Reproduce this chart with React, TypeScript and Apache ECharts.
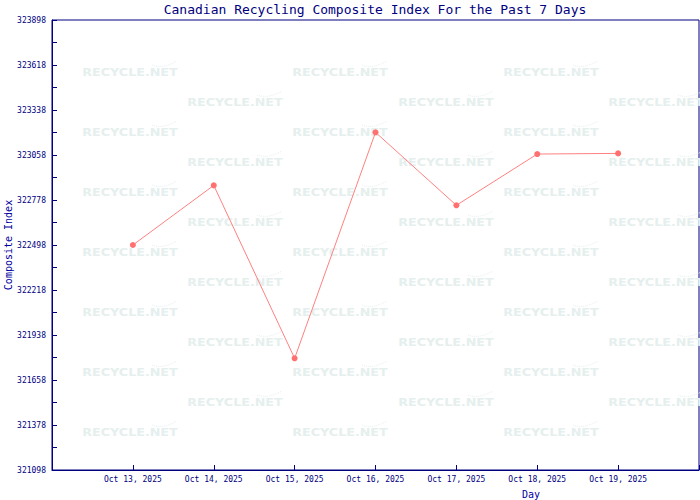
import React, { useEffect, useRef } from 'react';
import * as echarts from 'echarts';

const days = ['Oct 13, 2025', 'Oct 14, 2025', 'Oct 15, 2025', 'Oct 16, 2025', 'Oct 17, 2025', 'Oct 18, 2025', 'Oct 19, 2025'];
const indexValues = [322498, 322869, 321793, 323199, 322745, 323064, 323068];
const axisMin = 321098;
const axisMax = 323898;
const tickStep = 140;
const labelStep = 280;

export default function App() {
  const ref = useRef<HTMLDivElement>(null);
  useEffect(() => {
    document.body.style.margin = '0';
    const chart = echarts.init(ref.current!, null, { renderer: 'svg' });
    const navy = '#000080';
    const mono = '"DejaVu Sans Mono", monospace';
    const wm: any[] = [];
    for (let r = 0; r < 13; r++) {
      const y = 73 + r * 30;
      const xs = r % 2 === 0 ? [130, 340, 551] : [235, 446, 656];
      xs.forEach((x) => {
        wm.push({
          type: 'text', x, y, scaleX: 1.27, z: 1, silent: true,
          style: { text: 'RECYCLE.NET', fill: '#e5efed', font: 'bold 10px "DejaVu Sans"', textAlign: 'center', textVerticalAlign: 'middle' },
        });
        wm.push({
          type: 'bezierCurve', z: 1, silent: true,
          shape: { x1: x + 22, y1: y - 8, cpx1: x + 30, cpy1: y - 5, cpx2: x + 38, cpy2: y - 7, x2: x + 47, y2: y - 12 },
          style: { stroke: '#e8f0ef', lineWidth: 1, fill: 'none', lineDash: [1, 1] },
        });
      });
    }
    chart.setOption({
      animation: false,
      backgroundColor: '#ffffff',
      grid: { left: 52, top: 20, right: 1, bottom: 30, show: true, borderColor: navy, borderWidth: 1, containLabel: false, outerBoundsMode: 'none' },
      graphic: [
        ...wm,
        { type: 'text', x: 375, y: 9, z: 10, style: { text: 'Canadian Recycling Composite Index For the Past 7 Days', fill: navy, font: `13px ${mono}`, textAlign: 'center', textVerticalAlign: 'middle' } },
        { type: 'text', x: 531, y: 494, z: 10, style: { text: 'Day', fill: '#0000a0', font: `10px ${mono}`, textAlign: 'center', textVerticalAlign: 'middle' } },
        { type: 'text', x: 8, y: 245, rotation: Math.PI / 2, z: 10, style: { text: 'Composite Index', fill: '#0000a0', font: `10px ${mono}`, textAlign: 'center', textVerticalAlign: 'middle' } },
      ],
      xAxis: {
        type: 'value', min: 0, max: days.length + 1, interval: 1,
        axisLine: { show: true, lineStyle: { color: navy, width: 1 } },
        axisTick: { show: true, inside: true, length: 5, lineStyle: { color: navy } },
        axisLabel: { color: navy, fontFamily: mono, fontSize: 8, margin: 5, formatter: (v: number) => days[v - 1] ?? '' },
        splitLine: { show: false },
      },
      yAxis: {
        type: 'value', min: 0, max: axisMax - axisMin, interval: tickStep,
        axisLine: { show: true, lineStyle: { color: navy, width: 1 } },
        axisTick: { show: true, inside: true, length: 5, lineStyle: { color: navy } },
        axisLabel: { color: navy, fontFamily: mono, fontSize: 8, margin: 6, formatter: (v: number) => (Math.round(v) % labelStep === 0 ? String(v + axisMin) : '') },
        splitLine: { show: false },
      },
      series: [{
        type: 'line',
        data: indexValues.map((v, i) => [i + 1, v - axisMin]),
        symbol: 'circle', symbolSize: 6,
        itemStyle: { color: '#ff7070' },
        lineStyle: { color: '#ff8080', width: 1 },
        z: 5,
      }],
    });
    return () => chart.dispose();
  }, []);
  return <div ref={ref} style={{ position: 'fixed', left: 0, top: 0, width: 700, height: 500 }} />;
}
